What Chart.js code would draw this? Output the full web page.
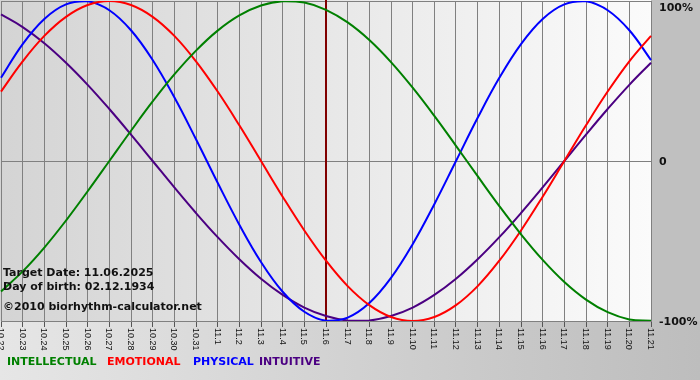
<!DOCTYPE html>
<html><head><meta charset="utf-8">
<script src="https://cdn.jsdelivr.net/npm/chart.js@4/dist/chart.umd.min.js"></script>
<style>html,body{margin:0;padding:0;background:#fff}#wrap{width:700px;height:380px;position:relative}</style>
</head><body><div id="wrap"><canvas id="c" width="700" height="380"></canvas></div>
<script>
const dayLabels = ['10.22','10.23','10.24','10.25','10.26','10.27','10.28','10.29','10.30','10.31',
  '11.1','11.2','11.3','11.4','11.5','11.6','11.7','11.8','11.9','11.10','11.11','11.12','11.13',
  '11.14','11.15','11.16','11.17','11.18','11.19','11.20','11.21'];
const intellectual = [-0.815,-0.690,-0.541,-0.372,-0.189,0,0.189,0.372,0.541,0.690,0.815,0.910,0.972,0.999,0.990,0.945,0.866,0.756,0.618,0.458,0.282,0.095,-0.095,-0.282,-0.458,-0.618,-0.756,-0.866,-0.945,-0.990,-0.999];
const emotional = [0.434,0.623,0.782,0.901,0.975,1,0.975,0.901,0.782,0.623,0.434,0.223,0,-0.223,-0.434,-0.623,-0.782,-0.901,-0.975,-1,-0.975,-0.901,-0.782,-0.623,-0.434,-0.223,0,0.223,0.434,0.623,0.782];
const physical = [0.520,0.731,0.888,0.979,0.998,0.942,0.817,0.631,0.398,0.136,-0.136,-0.398,-0.631,-0.817,-0.942,-0.998,-0.979,-0.888,-0.731,-0.520,-0.270,0,0.270,0.520,0.731,0.888,0.979,0.998,0.942,0.817,0.631];
const intuitive = [0.916,0.837,0.736,0.614,0.476,0.325,0.165,0,-0.165,-0.325,-0.476,-0.614,-0.736,-0.837,-0.916,-0.969,-0.997,-0.997,-0.969,-0.916,-0.837,-0.736,-0.614,-0.476,-0.325,-0.165,0,0.165,0.325,0.476,0.614];
const yTickValues = [1, 0, -1];
const yTickLabels = ['100%', '0', '-100%'];
const seriesNames = ['INTELLECTUAL', 'EMOTIONAL', 'PHYSICAL', 'INTUITIVE'];
const seriesColors = ['#008000', '#ff0000', '#0000ff', '#4b0082'];
const targetDay = '11.6';
const infoLines = ['Target Date: 11.06.2025', 'Day of birth: 02.12.1934', '\u00a92010 biorhythm-calculator.net'];

const legendX = [7, 107, 193, 259];

const extras = {
  id: 'extras',
  beforeDraw(chart) {
    const {ctx, chartArea: a, width, height} = chart;
    ctx.save();
    let g = ctx.createLinearGradient(0, 0, width, 0);
    g.addColorStop(0, '#e6e6e6'); g.addColorStop(1, '#bdbdbd');
    ctx.fillStyle = g; ctx.fillRect(0, 0, width, height);
    ctx.fillStyle = '#c0c0c0'; ctx.fillRect(a.right, 0, width - a.right, a.bottom);
    g = ctx.createLinearGradient(a.left, 0, a.right, 0);
    g.addColorStop(0, '#d4d4d4'); g.addColorStop(1, '#fbfbfb');
    ctx.fillStyle = g; ctx.fillRect(0, 0, a.right, a.bottom);
    ctx.restore();
  },
  beforeDatasetsDraw(chart) {
    const {ctx, chartArea: a, scales} = chart;
    const x = scales.x.getPixelForValue(dayLabels.indexOf(targetDay));
    ctx.save();
    ctx.strokeStyle = '#800000'; ctx.lineWidth = 2;
    ctx.beginPath(); ctx.moveTo(x, 0); ctx.lineTo(x, a.bottom); ctx.stroke();
    ctx.restore();
  },
  afterDraw(chart) {
    const {ctx, chartArea: a, scales} = chart;
    ctx.save();
    ctx.fillStyle = '#111';
    ctx.font = '9px "Liberation Sans"';
    ctx.textAlign = 'left'; ctx.textBaseline = 'middle';
    dayLabels.forEach((lab, i) => {
      const x = scales.x.getPixelForTick(i);
      ctx.save(); ctx.translate(x, a.bottom + 7); ctx.rotate(Math.PI / 2);
      ctx.fillText(lab, 0, 0.5); ctx.restore();
    });
    ctx.fillStyle = '#111';
    ctx.font = 'bold 11px "DejaVu Sans"';
    yTickValues.forEach((v, i) => {
      const y = Math.max(scales.y.getPixelForValue(v), 7);
      ctx.fillText(yTickLabels[i], a.right + 8, y + 1);
    });
    ctx.textBaseline = 'alphabetic';
    ctx.fillText(infoLines[0], 3, 276);
    ctx.fillText(infoLines[1], 3, 290);
    ctx.fillText(infoLines[2], 3, 310);
    seriesNames.forEach((n, i) => {
      ctx.fillStyle = seriesColors[i];
      ctx.fillText(n, legendX[i], 365);
    });
    ctx.restore();
  }
};

const mk = (label, data, color) => ({label, data, borderColor: color, borderWidth: 2, pointRadius: 0, tension: 0.4, fill: false});

new Chart(document.getElementById('c'), {
  type: 'line',
  data: {
    labels: dayLabels,
    datasets: [
      mk(seriesNames[0], intellectual, seriesColors[0]),
      mk(seriesNames[1], emotional, seriesColors[1]),
      mk(seriesNames[2], physical, seriesColors[2]),
      mk(seriesNames[3], intuitive, seriesColors[3])
    ]
  },
  options: {
    responsive: false, animation: false, devicePixelRatio: 1,
    layout: {padding: {left: 1, top: 1, right: 0, bottom: 0}},
    plugins: {legend: {display: false}, tooltip: {enabled: false}},
    scales: {
      x: {
        offset: false,
        ticks: {display: false, autoSkip: false},
        grid: {color: '#808080', lineWidth: 1, drawTicks: true, tickLength: 6, tickColor: '#555'},
        border: {color: '#808080'},
        afterFit(s) { s.height = 59; }
      },
      y: {
        position: 'right', min: -1, max: 1,
        afterBuildTicks(s) { s.ticks = yTickValues.map(v => ({value: v})); },
        ticks: {display: false},
        grid: {color: '#808080', lineWidth: 1, drawTicks: false},
        border: {display: false},
        afterFit(s) { s.width = 49; }
      }
    }
  },
  plugins: [extras]
});
</script>
</body></html>
